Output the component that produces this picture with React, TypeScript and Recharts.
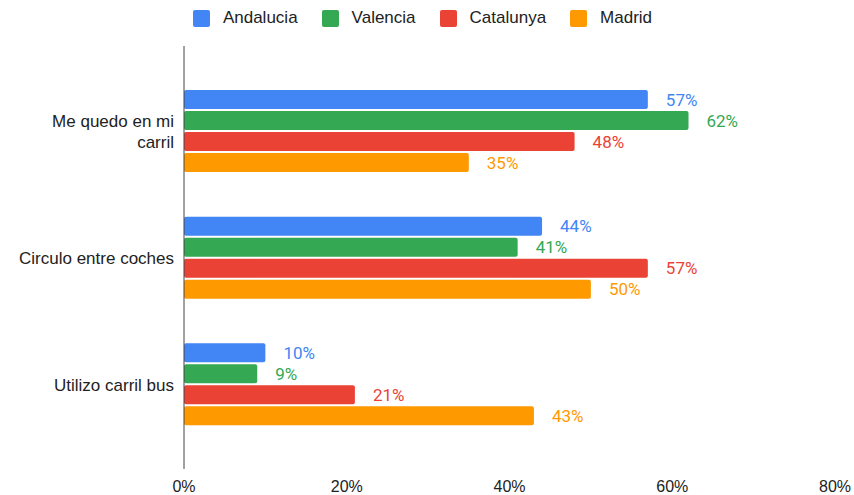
import React from "react";
import {
  BarChart,
  Bar,
  XAxis,
  YAxis,
  Legend,
  LabelList,
} from "recharts";

const categories = ["Me quedo en mi carril", "Circulo entre coches", "Utilizo carril bus"];
const andalucia = [57, 44, 10];
const valencia = [62, 41, 9];
const catalunya = [48, 57, 21];
const madrid = [35, 50, 43];
const xTicks = [0, 20, 40, 60, 80];

const series = [
  { key: "Andalucia", values: andalucia, color: "#4285F4" },
  { key: "Valencia", values: valencia, color: "#34A853" },
  { key: "Catalunya", values: catalunya, color: "#EA4335" },
  { key: "Madrid", values: madrid, color: "#FF9900" },
];

const data = categories.map((name, i) => {
  const row: Record<string, string | number> = { name };
  series.forEach((s) => (row[s.key] = s.values[i]));
  return row;
});

const ARIAL = "Arial, 'Liberation Sans', sans-serif";

// split a label into lines no wider than maxW (canvas measurement)
let ctx: CanvasRenderingContext2D | null = null;
function wrap(label: string, maxW: number): string[] {
  if (!ctx) ctx = document.createElement("canvas").getContext("2d");
  if (!ctx) return [label];
  ctx.font = `17px ${ARIAL}`;
  const words = label.split(" ");
  const lines: string[] = [];
  let cur = "";
  words.forEach((w) => {
    const test = cur ? cur + " " + w : w;
    if (cur && ctx!.measureText(test).width > maxW) {
      lines.push(cur);
      cur = w;
    } else cur = test;
  });
  if (cur) lines.push(cur);
  return lines;
}

function CategoryTick(props: any) {
  const { x, y, payload } = props;
  const lines = wrap(String(payload.value), 158);
  const first = y - ((lines.length - 1) / 2) * 21 + 6;
  return (
    <text x={x} y={first} textAnchor="end" fontSize={17} fontFamily={ARIAL} fill="#222">
      {lines.map((l, i) => (
        <tspan key={i} x={x} y={first + i * 21}>
          {l}
        </tspan>
      ))}
    </text>
  );
}

function LegendBox() {
  return (
    <div
      style={{
        height: 46,
        display: "flex",
        justifyContent: "center",
        alignItems: "flex-start",
        paddingTop: 9,
        paddingLeft: 10,
        boxSizing: "border-box",
        fontFamily: ARIAL,
        fontSize: 17,
        color: "#222",
      }}
    >
      {series.map((s, i) => (
        <div
          key={s.key}
          style={{ display: "flex", alignItems: "center", marginRight: i < series.length - 1 ? 24 : 0 }}
        >
          <span
            style={{
              width: 17,
              height: 17,
              borderRadius: 2,
              background: s.color,
              display: "inline-block",
              marginRight: 13,
            }}
          />
          <span style={{ lineHeight: "18px" }}>{s.key}</span>
        </div>
      ))}
    </div>
  );
}

export default function App() {
  return (
    <div style={{ position: "absolute", left: 0, top: 0, width: 854, height: 495, background: "#fff" }}>
      <BarChart
        width={854}
        height={495}
        data={data}
        layout="vertical"
        margin={{ top: 0, right: 19, left: 0, bottom: 0 }}
        barSize={19}
        barGap={2}
      >
        <Legend verticalAlign="top" align="center" content={<LegendBox />} />
        <XAxis
          type="number"
          domain={[0, 80]}
          ticks={xTicks}
          tickFormatter={(v) => `${v}%`}
          axisLine={false}
          tickLine={false}
          tickMargin={6}
          height={26}
          tick={{ fontSize: 16, fontFamily: ARIAL, fill: "#222" }}
          interval={0}
        />
        <YAxis
          type="category"
          dataKey="name"
          width={184}
          tickLine={false}
          tickSize={0}
          tickMargin={10}
          axisLine={{ stroke: "#444", strokeWidth: 1 }}
          padding={{ top: 22, bottom: 21 }}
          tick={<CategoryTick />}
        />
        {series.map((s) => (
          <Bar key={s.key} dataKey={s.key} fill={s.color} radius={2} isAnimationActive={false}>
            <LabelList
              dataKey={s.key}
              position="right"
              offset={18}
              formatter={(v: any) => `${v}%`}
              style={{ fill: s.color, fontSize: 17, fontFamily: "Roboto, sans-serif" }}
            />
          </Bar>
        ))}
      </BarChart>
    </div>
  );
}
